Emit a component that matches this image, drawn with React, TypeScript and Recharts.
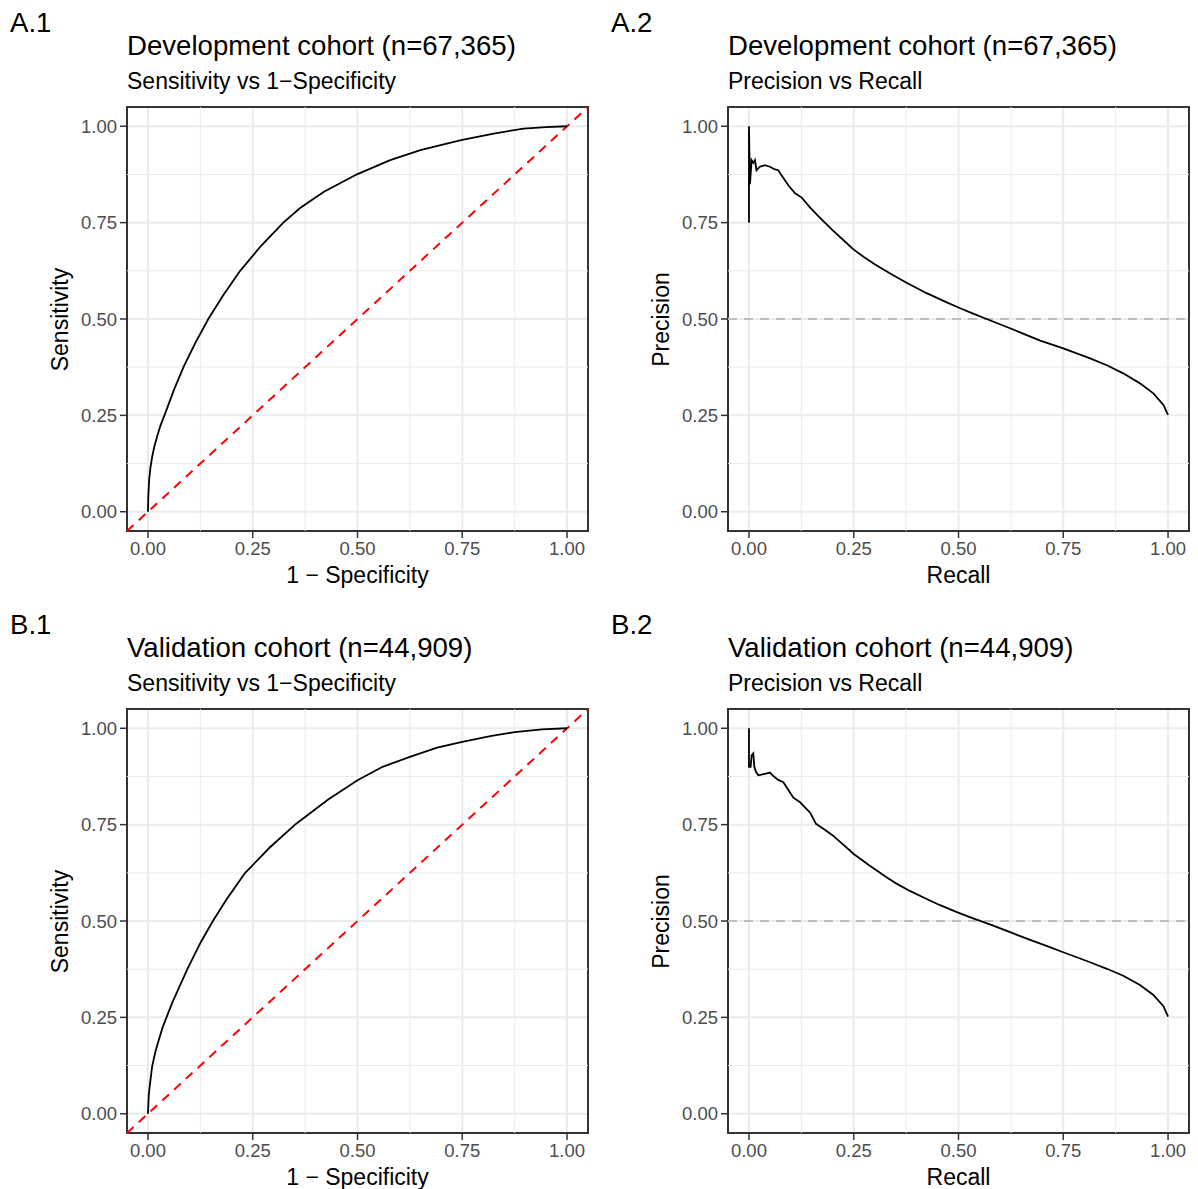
import {
  LineChart,
  Line,
  XAxis,
  YAxis,
  CartesianGrid,
  ReferenceLine,
  ReferenceArea,
} from 'recharts';

const FONT = '"Liberation Sans", Arial, Helvetica, sans-serif';

// axis breaks shared by all four panels
const majorTicks = [0, 0.25, 0.5, 0.75, 1];
const minorTicks = [0.125, 0.375, 0.625, 0.875];
const panelDomain: [number, number] = [-0.05, 1.05];
const prChanceLevel = 0.5;

// A.1 development ROC
const devFpr = [0, 0.001, 0.003, 0.006, 0.01, 0.015, 0.022, 0.03, 0.04, 0.062, 0.085, 0.114, 0.144, 0.18, 0.22, 0.27, 0.323, 0.363, 0.42, 0.5, 0.578, 0.65, 0.713, 0.75, 0.825, 0.896, 0.95, 1.0];
const devTpr = [0, 0.045, 0.085, 0.115, 0.142, 0.168, 0.196, 0.224, 0.252, 0.316, 0.376, 0.44, 0.5, 0.562, 0.625, 0.69, 0.75, 0.788, 0.83, 0.876, 0.912, 0.938, 0.955, 0.965, 0.981, 0.994, 0.998, 1.0];

// A.2 development precision-recall
const devRecall = [0, 0, 0.0024, 0.0064, 0.0104, 0.0143, 0.018, 0.026, 0.038, 0.05, 0.062, 0.07, 0.078, 0.094, 0.11, 0.126, 0.146, 0.169, 0.2, 0.225, 0.25, 0.275, 0.3, 0.337, 0.376, 0.424, 0.472, 0.504, 0.535, 0.567, 0.623, 0.695, 0.75, 0.814, 0.854, 0.893, 0.933, 0.965, 0.989, 1.0];
const devPrecision = [0.75, 1.0, 0.85, 0.912, 0.905, 0.912, 0.886, 0.895, 0.899, 0.895, 0.888, 0.886, 0.872, 0.847, 0.826, 0.815, 0.789, 0.763, 0.73, 0.705, 0.68, 0.66, 0.642, 0.618, 0.594, 0.567, 0.543, 0.528, 0.514, 0.5, 0.476, 0.444, 0.424, 0.398, 0.38, 0.359, 0.333, 0.307, 0.277, 0.251];

// B.1 validation ROC
const valFpr = [0, 0.002, 0.005, 0.01, 0.018, 0.026, 0.035, 0.045, 0.058, 0.094, 0.126, 0.155, 0.19, 0.232, 0.29, 0.351, 0.375, 0.43, 0.5, 0.56, 0.625, 0.69, 0.75, 0.82, 0.875, 0.94, 1.0];
const valTpr = [0, 0.05, 0.079, 0.123, 0.162, 0.192, 0.224, 0.252, 0.288, 0.375, 0.445, 0.5, 0.56, 0.625, 0.69, 0.75, 0.77, 0.815, 0.865, 0.9, 0.926, 0.95, 0.965, 0.98, 0.99, 0.997, 1.0];

// B.2 validation precision-recall
const valRecall = [0, 0, 0.004, 0.0064, 0.0104, 0.0127, 0.0167, 0.0223, 0.03, 0.038, 0.05, 0.058, 0.07, 0.082, 0.094, 0.106, 0.122, 0.146, 0.16, 0.181, 0.2, 0.225, 0.25, 0.285, 0.33, 0.352, 0.384, 0.424, 0.456, 0.496, 0.535, 0.583, 0.623, 0.671, 0.718, 0.75, 0.814, 0.854, 0.893, 0.933, 0.965, 0.989, 1.0];
const valPrecision = [1.0, 0.9, 0.9, 0.93, 0.935, 0.9, 0.887, 0.878, 0.88, 0.882, 0.885, 0.876, 0.866, 0.86, 0.84, 0.82, 0.808, 0.781, 0.752, 0.737, 0.722, 0.698, 0.674, 0.646, 0.612, 0.597, 0.578, 0.557, 0.541, 0.523, 0.507, 0.488, 0.471, 0.451, 0.432, 0.419, 0.393, 0.376, 0.358, 0.334, 0.308, 0.279, 0.252];

const fmt = (v: number) => v.toFixed(2);

const tickStyle = { fill: '#4d4d4d', fontSize: 18.5, fontFamily: FONT };

interface PanelProps {
  left: number;
  top: number;
  tag: string;
  title: string;
  subtitle: string;
  xLabel: string;
  yLabel: string;
  xs: number[];
  ys: number[];
  roc: boolean;
}

function Panel({ left, top, tag, title, subtitle, xLabel, yLabel, xs, ys, roc }: PanelProps) {
  const data = xs.map((x, i) => ({ x, y: ys[i] }));
  return (
    <div style={{ position: 'absolute', left, top, width: 599, height: 600, fontFamily: FONT }}>
      <LineChart width={599} height={600} data={data} margin={{ top: 107, right: 11, bottom: 0, left: 0 }}>
        <CartesianGrid stroke="#EBEBEB" strokeWidth={2} />
        {minorTicks.map((v) => (
          <ReferenceLine key={'mx' + v} x={v} stroke="#EBEBEB" strokeWidth={1} />
        ))}
        {minorTicks.map((v) => (
          <ReferenceLine key={'my' + v} y={v} stroke="#EBEBEB" strokeWidth={1} />
        ))}
        <XAxis
          type="number"
          dataKey="x"
          domain={panelDomain}
          ticks={majorTicks}
          allowDataOverflow
          interval={0}
          height={69}
          axisLine={false}
          tickLine={{ stroke: '#333333', strokeWidth: 1.5 }}
          tickSize={7}
          tickMargin={4}
          tick={tickStyle}
          tickFormatter={fmt}
        />
        <YAxis
          type="number"
          domain={panelDomain}
          ticks={majorTicks}
          allowDataOverflow
          interval={0}
          width={127}
          axisLine={false}
          tickLine={{ stroke: '#333333', strokeWidth: 1.5 }}
          tickSize={7}
          tickMargin={3}
          tick={tickStyle}
          tickFormatter={fmt}
        />
        {roc ? (
          <ReferenceLine
            segment={[
              { x: panelDomain[0], y: panelDomain[0] },
              { x: panelDomain[1], y: panelDomain[1] },
            ]}
            stroke="#FF0000"
            strokeWidth={2}
            strokeDasharray="9 7"
          />
        ) : (
          <ReferenceLine y={prChanceLevel} stroke="#BEBEBE" strokeWidth={2} strokeDasharray="9 7" />
        )}
        <Line
          dataKey="y"
          type="linear"
          stroke="#000000"
          strokeWidth={1.8}
          dot={false}
          activeDot={false}
          isAnimationActive={false}
        />
        <ReferenceArea
          x1={panelDomain[0]}
          x2={panelDomain[1]}
          y1={panelDomain[0]}
          y2={panelDomain[1]}
          fill="none"
          fillOpacity={0}
          stroke="#333333"
          strokeWidth={2}
        />
      </LineChart>
      <div style={{ position: 'absolute', left: 10, top: 9, fontSize: 27.6, lineHeight: 1, color: '#000' }}>{tag}</div>
      <div style={{ position: 'absolute', left: 127, top: 32, fontSize: 27.6, lineHeight: 1, color: '#000', whiteSpace: 'nowrap' }}>{title}</div>
      <div style={{ position: 'absolute', left: 127, top: 70, fontSize: 23, lineHeight: 1, color: '#000', whiteSpace: 'nowrap' }}>{subtitle}</div>
      <div style={{ position: 'absolute', left: 127, width: 461, top: 564, fontSize: 23, lineHeight: 1, color: '#000', textAlign: 'center' }}>{xLabel}</div>
      <div
        style={{
          position: 'absolute',
          left: 60 - 100,
          top: 319 - 11.5,
          width: 200,
          fontSize: 23,
          lineHeight: 1,
          color: '#000',
          textAlign: 'center',
          transform: 'rotate(-90deg)',
        }}
      >
        {yLabel}
      </div>
    </div>
  );
}

export default function App() {
  return (
    <div style={{ position: 'absolute', left: 0, top: 0, width: 1198, height: 1189, background: '#fff' }}>
      <Panel left={0} top={0} tag="A.1" title="Development cohort (n=67,365)" subtitle="Sensitivity vs 1−Specificity"
        xLabel="1 − Specificity" yLabel="Sensitivity" xs={devFpr} ys={devTpr} roc />
      <Panel left={601} top={0} tag="A.2" title="Development cohort (n=67,365)" subtitle="Precision vs Recall"
        xLabel="Recall" yLabel="Precision" xs={devRecall} ys={devPrecision} roc={false} />
      <Panel left={0} top={602} tag="B.1" title="Validation cohort (n=44,909)" subtitle="Sensitivity vs 1−Specificity"
        xLabel="1 − Specificity" yLabel="Sensitivity" xs={valFpr} ys={valTpr} roc />
      <Panel left={601} top={602} tag="B.2" title="Validation cohort (n=44,909)" subtitle="Precision vs Recall"
        xLabel="Recall" yLabel="Precision" xs={valRecall} ys={valPrecision} roc={false} />
    </div>
  );
}
